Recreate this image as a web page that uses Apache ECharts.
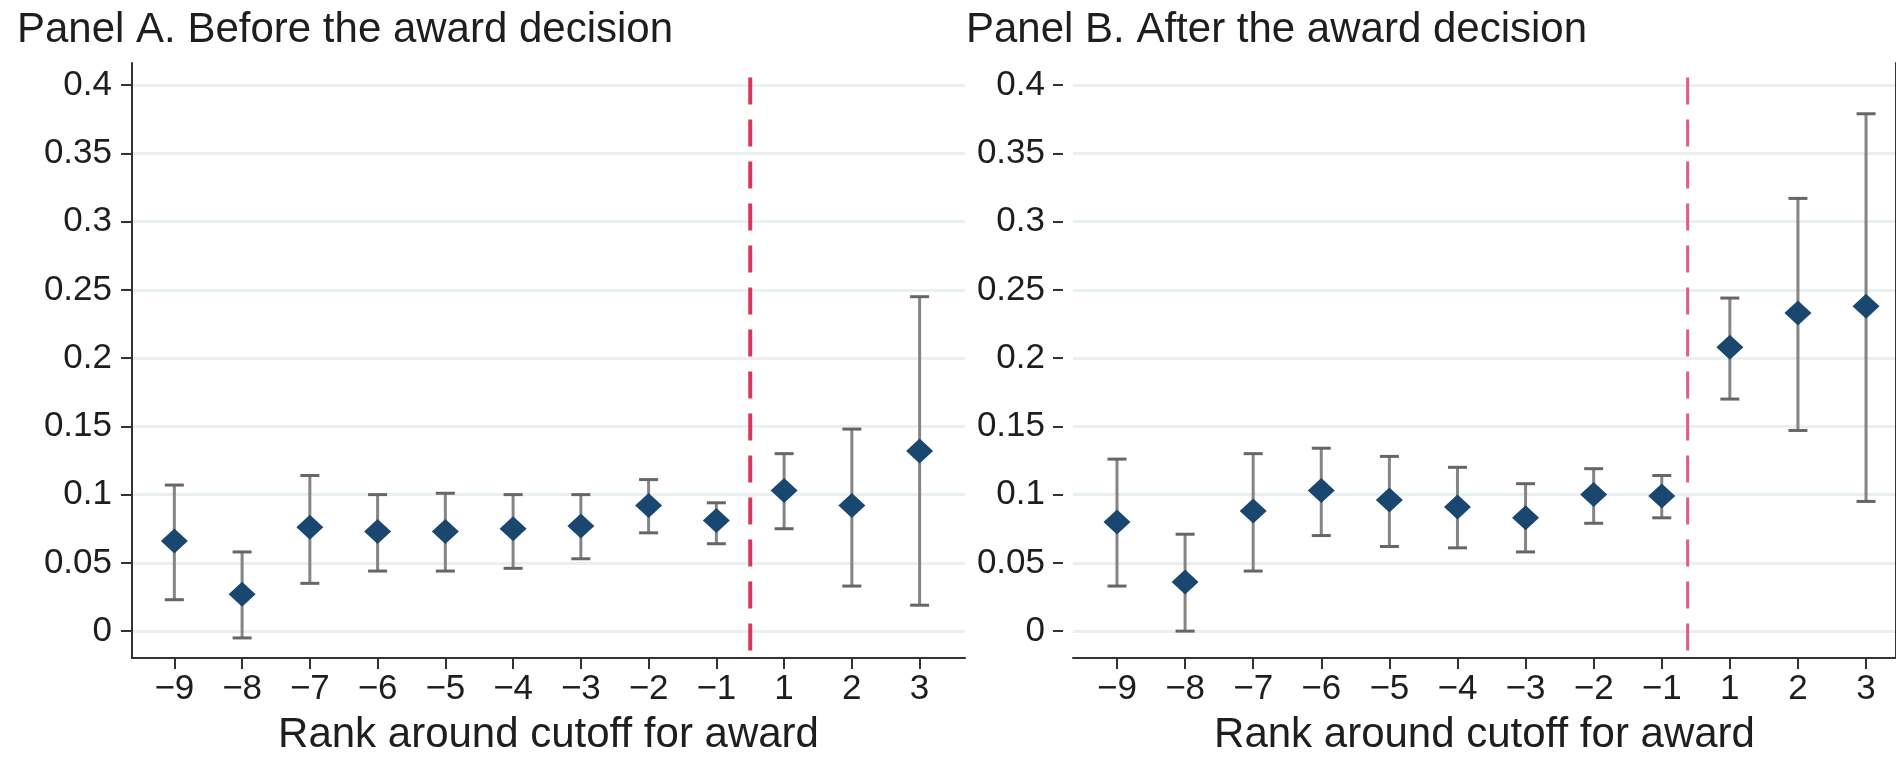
<!DOCTYPE html>
<html>
<head>
<meta charset="utf-8">
<script src="https://cdn.jsdelivr.net/npm/echarts@6/dist/echarts.min.js"></script>
<style>
html,body{margin:0;padding:0;background:#fff;}
#chart{width:1896px;height:764px;}
</style>
</head>
<body>
<div id="chart"></div>
<script>
// ---- data ----
const rankLabels = ['\u22129','\u22128','\u22127','\u22126','\u22125','\u22124','\u22123','\u22122','\u22121','1','2','3'];
const yTickValues = [0, 0.05, 0.1, 0.15, 0.2, 0.25, 0.3, 0.35, 0.4];
const yTickLabels = ['0', '0.05', '0.1', '0.15', '0.2', '0.25', '0.3', '0.35', '0.4'];

const panelTitles = ['Panel A. Before the award decision', 'Panel B. After the award decision'];
const xAxisTitle = 'Rank around cutoff for award';

const beforeEst = [0.066, 0.027, 0.076, 0.073, 0.073, 0.075, 0.077, 0.092, 0.081, 0.103, 0.092, 0.132];
const beforeLo  = [0.023, -0.005, 0.035, 0.044, 0.044, 0.046, 0.053, 0.072, 0.064, 0.075, 0.033, 0.019];
const beforeHi  = [0.107, 0.058, 0.114, 0.100, 0.101, 0.100, 0.100, 0.111, 0.094, 0.130, 0.148, 0.245];

const afterEst = [0.080, 0.036, 0.088, 0.103, 0.096, 0.091, 0.083, 0.100, 0.099, 0.208, 0.233, 0.238];
const afterLo  = [0.033, 0.000, 0.044, 0.070, 0.062, 0.061, 0.058, 0.079, 0.083, 0.170, 0.147, 0.095];
const afterHi  = [0.126, 0.071, 0.130, 0.134, 0.128, 0.120, 0.108, 0.119, 0.114, 0.244, 0.317, 0.379];

const cutoffPos = [8.5, 8.38];          // position of the dashed cutoff line (between -1 and 1)
const cutoffSpan = [-0.0142, 0.4162];   // vertical extent of the cutoff line

// ---- styles ----
const FONT = 'Liberation Sans, Arial, Helvetica, sans-serif';
const TXT = '#1e1e1e';
const AXIS = '#333333';
const NAVY = '#1a476f';
const BAR = '#858585';
const GRIDC = '#e8f0f2';
const YMIN = -0.0197, YMAX = 0.4162;
const DASH = 27, GAP = 15;

const chart = echarts.init(document.getElementById('chart'), null, {renderer: 'canvas'});

const tickPositions = rankLabels.map((_, i) => i);
function yFmt(v) {
  let best = 0;
  for (let i = 0; i < yTickValues.length; i++) {
    if (Math.abs(yTickValues[i] - v) < Math.abs(yTickValues[best] - v)) best = i;
  }
  return yTickLabels[best];
}

function xAxisDef(gridIndex, min, max) {
  return {
    type: 'value', gridIndex, min, max,
    axisLine: {show: true, onZero: false, lineStyle: {color: AXIS, width: 2}},
    axisTick: {show: true, length: 11, lineStyle: {color: AXIS, width: 2}, customValues: tickPositions},
    axisLabel: {show: true, customValues: tickPositions, formatter: v => rankLabels[Math.round(v)],
      fontSize: 35, color: TXT, fontFamily: FONT, margin: 14},
    splitLine: {show: false},
    name: xAxisTitle, nameLocation: 'middle', nameGap: 56,
    nameTextStyle: {fontSize: 42, color: TXT, fontFamily: FONT}
  };
}

function yAxisDef(gridIndex, opts) {
  return Object.assign({
    type: 'value', gridIndex, min: YMIN, max: YMAX,
    axisLine: {show: true, onZero: false, lineStyle: {color: AXIS, width: 2}},
    axisTick: {show: true, length: 11, lineStyle: {color: AXIS, width: 2}, customValues: yTickValues},
    axisLabel: {show: true, customValues: yTickValues, formatter: yFmt,
      fontSize: 35, color: TXT, fontFamily: FONT, margin: 20},
    splitLine: {show: false}
  }, opts || {});
}

function errorBars(lo, hi, xi, yi) {
  return {
    type: 'custom', xAxisIndex: xi, yAxisIndex: yi, z: 2, silent: true,
    data: lo.map((l, i) => [i, l, hi[i]]),
    encode: {x: 0, y: [1, 2]},
    renderItem: function (params, api) {
      const x = api.value(0);
      const pLo = api.coord([x, api.value(1)]);
      const pHi = api.coord([x, api.value(2)]);
      const half = 9.5;
      const st = {stroke: BAR, lineWidth: 3};
      const cap = {stroke: '#666666', lineWidth: 3};
      return {
        type: 'group',
        children: [
          {type: 'line', shape: {x1: pLo[0], y1: pLo[1], x2: pHi[0], y2: pHi[1]}, style: st},
          {type: 'line', shape: {x1: pLo[0] - half, y1: pLo[1], x2: pLo[0] + half, y2: pLo[1]}, style: cap},
          {type: 'line', shape: {x1: pHi[0] - half, y1: pHi[1], x2: pHi[0] + half, y2: pHi[1]}, style: cap}
        ]
      };
    }
  };
}

function gridLines(xi, yi) {
  return {
    type: 'line', xAxisIndex: xi, yAxisIndex: yi, data: [], z: 0, silent: true,
    markLine: {
      z: 0, zlevel: 0,
      silent: true, symbol: ['none', 'none'], label: {show: false},
      lineStyle: {color: GRIDC, width: 3, type: 'solid'},
      emphasis: {disabled: true},
      animation: false,
      data: yTickValues.map(v => ({yAxis: v}))
    }
  };
}

// dashed vertical cutoff line: dash pieces laid out in pixel space between the two scale points
function cutoffLine(pos, xi, yi, color, width) {
  return {
    type: 'custom', xAxisIndex: xi, yAxisIndex: yi, z: 1, silent: true,
    data: [[pos, cutoffSpan[0], cutoffSpan[1]]],
    encode: {x: 0, y: [1, 2]},
    renderItem: function (params, api) {
      const x = api.value(0);
      const pLo = api.coord([x, api.value(1)]);
      const pHi = api.coord([x, api.value(2)]);
      const children = [];
      let y = pLo[1];
      while (y > pHi[1]) {
        const y2 = Math.max(pHi[1], y - DASH);
        children.push({type: 'rect', shape: {x: pLo[0] - width / 2, y: y2, width: width, height: y - y2},
          style: {fill: color}});
        y -= DASH + GAP;
      }
      return {type: 'group', children};
    }
  };
}

function points(est, xi, yi) {
  return {
    type: 'scatter', xAxisIndex: xi, yAxisIndex: yi, z: 3, silent: true,
    data: est.map((v, i) => [i, v]),
    symbol: 'diamond', symbolSize: [27, 25],
    itemStyle: {color: NAVY, opacity: 1}
  };
}

const option = {
  animation: false,
  backgroundColor: '#ffffff',
  title: [
    {text: panelTitles[0], left: 12, top: 4, textStyle: {fontSize: 42, fontWeight: 'normal', color: TXT, fontFamily: FONT}},
    {text: panelTitles[1], left: 961, top: 4, textStyle: {fontSize: 42, fontWeight: 'normal', color: TXT, fontFamily: FONT}}
  ],
  grid: [
    {left: 132, top: 63, width: 833, height: 595, outerBoundsMode: 'none', containLabel: false},
    {left: 1073, top: 63, right: 0, height: 595, outerBoundsMode: 'none', containLabel: false}
  ],
  xAxis: [
    xAxisDef(0, -0.625, 11.67),
    xAxisDef(1, -0.646, 11.44)
  ],
  yAxis: [
    yAxisDef(0),
    yAxisDef(1, {offset: 10, axisLine: {show: false, onZero: false}, axisTick: {show: true, length: 10, lineStyle: {color: AXIS, width: 2}, customValues: yTickValues},
      axisLabel: {show: true, customValues: yTickValues, formatter: yFmt, fontSize: 35, color: TXT, fontFamily: FONT, margin: 18}}),
    yAxisDef(1, {axisTick: {show: false}, axisLabel: {show: false}})
  ],
  series: [
    gridLines(0, 0),
    gridLines(1, 1),
    cutoffLine(cutoffPos[0], 0, 0, '#d9365f', 4),
    cutoffLine(cutoffPos[1], 1, 1, '#e05c80', 3),
    errorBars(beforeLo, beforeHi, 0, 0),
    errorBars(afterLo, afterHi, 1, 1),
    points(beforeEst, 0, 0),
    points(afterEst, 1, 1)
  ]
};
chart.setOption(option);
</script>
</body>
</html>
